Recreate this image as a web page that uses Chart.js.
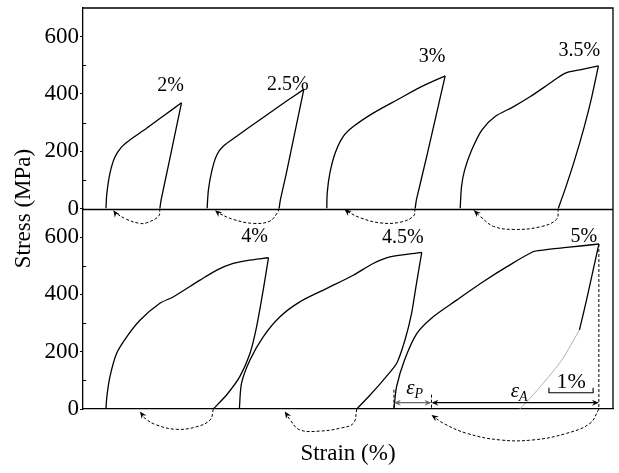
<!DOCTYPE html>
<html>
<head>
<meta charset="utf-8">
<script src="https://cdn.jsdelivr.net/npm/chart.js@4.4.0/dist/chart.umd.min.js"></script>
<style>
  html, body { margin: 0; padding: 0; background: #fff; }
  #wrap { width: 619px; height: 473px; }
</style>
</head>
<body>
<div id="wrap"><canvas id="loops" width="619" height="473"></canvas></div>
<script>
// strain shown as % (loops are shifted along the axis so they sit side by side)
const strainLabels = ["2%", "2.5%", "3%", "3.5%", "4%", "4.5%", "5%"];
const panelOf = ["top", "top", "top", "top", "bottom", "bottom", "bottom"];

// loading branches [strain, stress MPa]
const loading = [
    [[0.52, 0], [0.54, 53], [0.61, 123], [0.72, 179], [0.88, 216], [1.06, 239], [1.44, 280], [1.82, 323], [2.23, 369]],
    [[2.81, 0], [2.84, 65], [2.92, 134], [3.03, 187], [3.18, 218], [3.48, 252], [4.08, 318], [4.61, 375], [5.00, 416]],
    [[5.52, 0], [5.53, 55], [5.59, 124], [5.71, 194], [5.89, 251], [6.12, 286], [6.57, 333], [7.18, 385], [7.63, 423], [8.20, 463]],
    [[8.54, 0], [8.57, 76], [8.64, 134], [8.80, 204], [9.03, 274], [9.33, 321], [9.74, 355], [10.12, 390], [10.57, 437], [10.91, 472], [11.25, 484], [11.67, 498]],
    [[0.52, 0], [0.54, 43], [0.61, 113], [0.76, 194], [0.99, 252], [1.29, 310], [1.74, 369], [2.05, 392], [2.65, 450], [3.03, 485], [3.40, 508], [3.71, 518], [4.20, 528]],
    [[3.54, 0], [3.59, 90], [3.78, 171], [4.08, 252], [4.46, 322], [4.91, 374], [5.52, 421], [6.12, 467], [6.57, 508], [6.95, 531], [7.67, 547]],
    [[7.04, 0], [7.10, 78], [7.28, 171], [7.56, 264], [7.93, 322], [8.46, 380], [9.06, 444], [9.59, 496], [10.19, 549], [10.42, 555], [10.95, 564], [11.68, 576]],
];

// unloading branches
const unloading = [
    [[2.23, 369], [1.92, 140], [1.77, 31], [1.74, 0]],
    [[5.00, 416], [4.60, 120], [4.47, 31], [4.44, 0]],
    [[8.20, 463], [7.78, 180], [7.55, 31], [7.52, 0]],
    [[11.67, 498], [11.52, 390], [11.35, 286], [11.13, 169], [10.91, 65], [10.76, 0]],
    [[4.20, 528], [4.08, 415], [3.93, 287], [3.78, 194], [3.55, 113], [3.25, 49], [2.95, 0]],
    [[7.67, 547], [7.55, 438], [7.44, 334], [7.29, 241], [7.10, 159], [6.80, 101], [6.50, 49], [6.20, 0]],
    [[11.68, 576], [11.55, 485], [11.40, 380], [11.24, 276]],
];

// elastic part continued to zero stress (5% loop only)
const unloadingTail = [null, null, null, null, null, null,
    [[11.24, 276], [10.84, 171], [10.42, 90], [10.12, 37], [9.89, 0]]];

// strain recovery on heating, drawn under the zero line
const recovery = [
    [[1.74, 0], [1.71, -27], [1.44, -50], [1.29, -52], [0.99, -38], [0.72, -13], [0.69, -6]],
    [[4.44, 0], [4.40, -15], [4.23, -44], [3.86, -52], [3.40, -38], [3.06, -15], [2.99, -6]],
    [[7.52, 0], [7.48, -27], [7.18, -48], [6.72, -50], [6.27, -32], [5.97, -9], [5.92, -3]],
    [[10.76, 0], [10.72, -38], [10.35, -64], [9.74, -73], [9.29, -62], [8.99, -27], [8.85, -6]],
    [[2.95, 0], [2.88, -38], [2.57, -62], [2.12, -71], [1.67, -56], [1.40, -32], [1.29, -9]],
    [[6.20, 0], [6.12, -50], [5.82, -67], [5.37, -77], [4.91, -73], [4.69, -38], [4.57, -9]],
    [[11.68, 0], [11.48, -50], [10.95, -85], [10.19, -108], [9.44, -108], [8.69, -85], [8.16, -50], [7.89, -21]],
];

const stressTicks = [0, 100, 200, 300, 400, 500, 600];

const SERIF = "'Liberation Serif', 'DejaVu Serif', serif";
const toXY = (pts) => pts.map(([x, y]) => ({ x, y }));

const datasets = [];
strainLabels.forEach((label, i) => {
    const yAxisID = panelOf[i] === "top" ? "yTop" : "yBottom";
    const line = { yAxisID, showLine: true, pointRadius: 0, fill: false, borderColor: "#000" };
    datasets.push({ ...line, data: toXY(loading[i]), borderWidth: 1.3, tension: 0.3 });
    datasets.push({ ...line, data: toXY(unloading[i]), borderWidth: 1.3, tension: 0.2 });
    if (unloadingTail[i]) {
        datasets.push({ ...line, data: toXY(unloadingTail[i]), borderColor: "#a8a8a8", borderWidth: 0.9, tension: 0.3 });
    }
    datasets.push({ ...line, data: toXY(recovery[i]), borderWidth: 1, borderDash: [3, 2], tension: 0.4, clip: false, arrow: true });
});

function arrowHead(ctx, x, y, angle, len, half) {
    ctx.save();
    ctx.translate(x, y);
    ctx.rotate(angle);
    ctx.beginPath();
    ctx.moveTo(0, 0);
    ctx.lineTo(-len, -half);
    ctx.lineTo(-len * 0.65, 0);
    ctx.lineTo(-len, half);
    ctx.closePath();
    ctx.fill();
    ctx.restore();
}

function epsLabel(ctx, sub, cx, cy) {
    ctx.save();
    ctx.textBaseline = "alphabetic";
    ctx.textAlign = "left";
    ctx.font = "italic 21px " + SERIF;
    const w1 = ctx.measureText("\u03b5").width;
    ctx.font = "italic 14px " + SERIF;
    const w2 = ctx.measureText(sub).width;
    const x0 = cx - (w1 + w2) / 2;
    ctx.font = "italic 21px " + SERIF;
    ctx.fillText("\u03b5", x0, cy + 5);
    ctx.font = "italic 14px " + SERIF;
    ctx.fillText(sub, x0 + w1, cy + 9);
    ctx.restore();
}

const annotations = {
    id: "annotations",
    afterDatasetsDraw(chart, args, opts) {
        const { ctx, chartArea: area, scales } = chart;
        const x = scales.x;
        ctx.save();
        ctx.strokeStyle = "#000";
        ctx.fillStyle = "#000";

        // frame: top, right and the zero line of the upper panel
        ctx.lineWidth = 1.3;
        ctx.beginPath();
        ctx.moveTo(area.left, area.top);
        ctx.lineTo(area.right, area.top);
        ctx.lineTo(area.right, area.bottom);
        const mid = Math.round(scales.yTop.getPixelForValue(0)) + 0.5;
        ctx.moveTo(area.left, mid);
        ctx.lineTo(area.right, mid);
        ctx.stroke();

        // minor ticks point into the plot
        ctx.lineWidth = 1;
        ctx.beginPath();
        [scales.yTop, scales.yBottom].forEach((s) => {
            stressTicks.filter((v) => v % 200 !== 0).forEach((v) => {
                const py = Math.round(s.getPixelForValue(v)) + 0.5;
                ctx.moveTo(area.left, py);
                ctx.lineTo(area.left + 3, py);
            });
        });
        ctx.stroke();

        // arrowheads on the recovery curves
        chart.data.datasets.forEach((ds, i) => {
            if (!ds.arrow) return;
            const pts = chart.getDatasetMeta(i).data;
            const p = pts[pts.length - 1];
            const q = pts[pts.length - 2];
            const cx = p.cp1x !== undefined ? p.cp1x : q.x;
            const cy = p.cp1y !== undefined ? p.cp1y : q.y;
            arrowHead(ctx, p.x, p.y, Math.atan2(p.y - cy, p.x - cx), 7, 3);
        });

        // strain labels next to each peak
        ctx.font = "20px " + SERIF;
        ctx.textAlign = "center";
        ctx.textBaseline = "middle";
        strainLabels.forEach((label, i) => {
            const y = panelOf[i] === "top" ? scales.yTop : scales.yBottom;
            const pk = loading[i][loading[i].length - 1];
            const [dx, dy] = opts.labelOffsets[i];
            ctx.fillText(label, x.getPixelForValue(pk[0]) + dx, y.getPixelForValue(pk[1]) + dy);
        });

        // residual / recoverable strain of the 5% loop
        const n = strainLabels.length - 1;
        const yB = scales.yBottom;
        const zero = yB.getPixelForValue(0);
        const xs = x.getPixelForValue(loading[n][0][0]);
        const xm = x.getPixelForValue(recovery[n][recovery[n].length - 1][0]);
        const pk = loading[n][loading[n].length - 1];
        const xp = x.getPixelForValue(pk[0]);
        const ya = yB.getPixelForValue(opts.dimStress);

        ctx.lineWidth = 1;
        ctx.setLineDash([3, 2]);
        ctx.beginPath();
        ctx.moveTo(xs, ya - 13); ctx.lineTo(xs, zero);
        ctx.moveTo(xm, ya - 8); ctx.lineTo(xm, zero);
        ctx.moveTo(xp, yB.getPixelForValue(pk[1])); ctx.lineTo(xp, zero);
        ctx.stroke();
        ctx.setLineDash([]);

        const dim = (a, b, color) => {
            ctx.strokeStyle = color;
            ctx.fillStyle = color;
            ctx.lineWidth = 1.2;
            ctx.beginPath();
            ctx.moveTo(a + 2, ya); ctx.lineTo(b - 2, ya);
            ctx.stroke();
            arrowHead(ctx, a, ya, Math.PI, 7, 3);
            arrowHead(ctx, b, ya, 0, 7, 3);
        };
        dim(xs, xm, "#666");
        dim(xm, xp, "#000");
        ctx.fillStyle = "#000";
        epsLabel(ctx, "P", (xs + xm) / 2 + 2, ya - 14);
        epsLabel(ctx, "A", (xm + xp) / 2 + 4, ya - 11);

        // 1% scale bar
        const b0 = x.getPixelForValue(opts.barStart);
        const b1 = x.getPixelForValue(opts.barStart + 1);
        const yb = ya - 10;
        ctx.strokeStyle = "#000";
        ctx.lineWidth = 1.1;
        ctx.beginPath();
        ctx.moveTo(b0, yb - 5); ctx.lineTo(b0, yb); ctx.lineTo(b1, yb); ctx.lineTo(b1, yb - 5);
        ctx.stroke();
        ctx.font = "22px " + SERIF;
        ctx.textAlign = "center";
        ctx.textBaseline = "middle";
        ctx.fillText("1%", (b0 + b1) / 2, yb - 10);

        // shared y title
        ctx.save();
        ctx.translate(opts.yTitleX, (area.top + area.bottom) / 2);
        ctx.rotate(-Math.PI / 2);
        ctx.font = "23px " + SERIF;
        ctx.fillText("Stress (MPa)", 0, 0);
        ctx.restore();

        ctx.restore();
    },
};

function stressAxis() {
    return {
        type: "linear",
        position: "left",
        stack: "panels",
        stackWeight: 1,
        min: 0,
        max: 700,
        afterBuildTicks: (s) => { s.ticks = stressTicks.map((v) => ({ value: v })); },
        afterFit: (s) => {
            s.width = 83;
            s.paddingTop = 0;
            s.paddingBottom = 0;
        },
        ticks: {
            callback: (v) => (v % 200 === 0 ? v : ""),
            font: { family: SERIF, size: 23 },
            color: "#000",
            padding: 1,
        },
        grid: {
            drawOnChartArea: false,
            tickLength: 3,
            lineWidth: 1,
            tickColor: (c) => (c.tick && c.tick.value % 200 === 0 ? "#000" : "rgba(0,0,0,0)"),
        },
        border: { color: "#000", width: 1.3 },
    };
}

new Chart(document.getElementById("loops"), {
    type: "scatter",
    data: { datasets },
    options: {
        responsive: false,
        animation: false,
        devicePixelRatio: 1,
        layout: { padding: { top: 8, right: 6, left: 0, bottom: 0 } },
        plugins: {
            legend: { display: false },
            tooltip: { enabled: false },
            annotations: {
                labelOffsets: [[-11, -17], [-16, -5], [-13, -19], [-19, -15], [-14, -21], [-19, -15], [-15, -7]],
                dimStress: 22,
                barStart: 10.55,
                yTitleX: 24,
            },
        },
        scales: {
            x: {
                type: "linear",
                min: 0,
                max: 12,
                afterFit: (s) => {
                    s.height = 64;
                    s.paddingLeft = 0;
                    s.paddingRight = 0;
                },
                ticks: { display: false },
                grid: { display: false },
                border: { color: "#000", width: 1.3 },
                title: { display: true, text: "Strain (%)", color: "#000", font: { family: SERIF, size: 23, lineHeight: 1.3 } },
            },
            yBottom: stressAxis(),
            yTop: stressAxis(),
        },
    },
    plugins: [annotations],
});
</script>
</body>
</html>
